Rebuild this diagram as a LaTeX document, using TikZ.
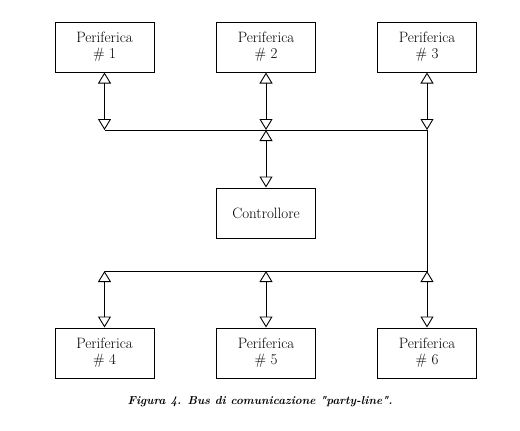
\documentclass[tikz,border=0pt]{standalone}
\usepackage{tikz}
\usetikzlibrary{arrows.meta, positioning}

\begin{document}
\begin{tikzpicture}[
    x=1pt, y=-1pt,
    perbox/.style={draw, line width=1pt, minimum width=99pt, minimum height=50pt,
                   align=center, inner sep=0pt, font=\fontsize{15}{16}\selectfont},
    buswire/.style={line width=0.9pt},
    busarr/.style={{Triangle[open, length=11pt, width=13pt]}-{Triangle[open, length=11pt, width=13pt]},
                   line width=0.9pt},
    figcap/.style={font=\fontsize{11.6}{13}\selectfont\bfseries\itshape},
  ]
    \useasboundingbox (0,0) rectangle (520,431);

    % === Upper peripherals ===
    \node[perbox] (p1) at (104.5, 47) {Periferica\\\# 1};
    \node[perbox] (p2) at (266, 47) {Periferica\\\# 2};
    \node[perbox] (p3) at (427, 47) {Periferica\\\# 3};

    % Controller
    \node[perbox] (ctrl) at (266, 213) {Controllore};

    % === Lower peripherals ===
    \node[perbox] (p4) at (104.5, 353) {Periferica\\\# 4};
    \node[perbox] (p5) at (266, 353) {Periferica\\\# 5};
    \node[perbox] (p6) at (427, 353) {Periferica\\\# 6};

    % Bus levels
    \coordinate (topbus) at (0, 130);
    \coordinate (lowbus) at (0, 271);

    % === Bus lines ===
    \draw[buswire] (p1.south |- topbus) -- (p3.south |- topbus)
                   -- (p3.south |- lowbus) -- (p4.north |- lowbus);

    % === Upper connections ===
    \draw[busarr] (p1.south) -- (p1.south |- topbus);
    \draw[busarr] (p2.south) -- (p2.south |- topbus);
    \draw[busarr] (p3.south) -- (p3.south |- topbus);
    \draw[busarr] (ctrl.north |- topbus) -- (ctrl.north);

    % === Lower connections ===
    \draw[busarr] (p4.north |- lowbus) -- (p4.north);
    \draw[busarr] (p5.north |- lowbus) -- (p5.north);
    \draw[busarr] (p6.north |- lowbus) -- (p6.north);

    % Caption
    \node[figcap] (caption) at (260, 402)
      {Figura 4. Bus di comunicazione \textquotedbl party-line\textquotedbl.};
  \end{tikzpicture}
\end{document}
